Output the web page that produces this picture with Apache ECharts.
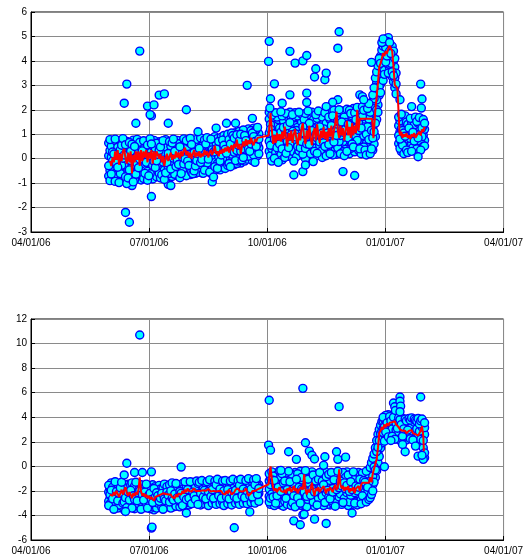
<!DOCTYPE html>
<html>
<head>
<meta charset="utf-8">
<script src="https://cdn.jsdelivr.net/npm/echarts@6/dist/echarts.min.js"></script>
<style>
  html, body { margin: 0; padding: 0; background: #fff; }
  #chart { width: 526px; height: 556px; }
</style>
</head>
<body>
<div id="chart"></div>
<script>
// x values are days counted from 04/01/06
var xTickLabels = ['04/01/06', '07/01/06', '10/01/06', '01/01/07', '04/01/07'];

// top panel: each row is [day, value, value, ...]
var topSummerRows = [
  [60, 0.12, -0.71, 0.64, -0.29], [61, -0.48, 0.33, -0.9, 0.78], [62, 0.05, -0.22, 0.51, -0.63],
  [63, 0.71, -0.84, -0.1, 0.27], [64, -0.39, 0.58, -0.67, 0.19], [65, 0.42, -0.05, -0.93, 0.8],
  [66, -0.57, 0.26, 0.69, -0.18], [67, -0.76, 0.09, 0.47, -0.35], [68, 0.6, -0.44, 0.16, -0.98],
  [69, -0.13, 0.74, -0.61, 0.36], [70, -0.82, 0.21, -0.27, 0.55], [71, 0.38, -0.66, 0.02, 0.82],
  [72, -0.41, 0.63, -0.89, 0.15], [73, 0.29, -0.16, -0.74, 0.57], [74, -0.55, 0.44, 0.7, -1.02],
  [75, 0.07, -0.33, 0.52, -0.79], [76, -1.0, 0.24, -0.46, 0.66], [77, 0.49, -0.7, -0.08, 0.3],
  [78, -1.1, -0.25, 0.13, 0.59], [79, 0.35, -0.58, 0.76, -0.95], [80, -0.31, 0.18, -0.86, 0.5],
  [81, 0.62, -0.12, -0.64, 0.04], [82, -0.49, 0.4, 0.79, -0.2], [83, -0.75, 0.1, 0.55, -0.37],
  [84, 0.28, -0.53, 0.67, -0.02], [85, -0.87, 0.45, -0.23, 0.14], [86, 0.58, -0.68, 0.0, 0.32],
  [87, -0.42, 0.22, -0.81, 0.73], [88, 0.11, -0.3, 0.49, -0.6], [89, -0.77, 0.37, 0.65, -0.15],
  [90, 0.2, -0.52, -0.88, 0.56], [91, -0.34, 0.71, 0.08, -0.7], [92, 0.47, -0.19, -0.62, 0.81],
  [93, -0.56, 0.3, -0.04, 0.6], [94, -0.83, 0.14, 0.52, -0.28], [95, 0.39, -0.45, 0.75, -0.11],
  [96, -0.65, 0.03, 0.43, -0.36], [97, 0.26, -0.74, 0.63, -0.09], [98, -0.5, 0.54, -0.21, 0.17],
  [99, 0.69, -0.6, -0.02, 0.34], [100, -0.4, 0.12, -0.79, 0.48], [101, 0.57, -0.27, 0.25, -0.66],
  [102, -0.72, 0.41, -0.14, 0.74], [103, 0.16, -0.47, 0.62, -0.85], [104, -0.31, 0.33, 0.78, -0.58],
  [105, 0.05, -0.69, 0.46, -0.17], [106, -1.05, 0.6, -0.38, 0.21], [107, 0.35, -0.12, -0.6, 0.7],
  [108, -1.1, 0.09, 0.51, -0.42], [109, 0.28, -0.73, -0.26, 0.64], [110, -0.55, 0.44, 0.02, 0.8],
  [111, -0.19, 0.67, -0.64, 0.3], [112, 0.1, -0.48, 0.55, -0.32], [113, -0.7, 0.36, 0.75, -0.05],
  [114, 0.23, -0.57, 0.61, -0.24], [115, -0.4, 0.14, -0.78, 0.49], [116, 0.72, -0.3, 0.31, -0.61],
  [117, -0.13, 0.53, -0.5, 0.06], [118, 0.42, -0.67, 0.81, -0.22], [119, -0.45, 0.19, 0.6, -0.01],
  [120, 0.35, -0.36, -0.7, 0.74], [121, -0.58, 0.27, 0.5, -0.1], [122, 0.08, -0.46, 0.66, -0.28],
  [123, -0.65, 0.41, 0.17, 0.83], [124, 0.3, -0.2, -0.55, 0.58], [125, -0.37, 0.7, 0.04, -0.62],
  [126, 0.49, -0.15, 0.25, -0.5], [127, -0.6, 0.11, 0.62, -0.3], [128, 0.38, -0.41, 0.79, -0.08],
  [129, -0.25, 0.55, -0.56, 0.2], [130, 0.66, -0.33, 0.02, 0.42], [131, -0.49, 0.29, 0.85, -0.16],
  [132, 0.14, -0.58, 0.5, -0.03], [133, -0.36, 0.63, 0.23, -0.6], [134, 0.44, -0.12, 0.77, -0.47],
  [135, -0.27, 0.35, 0.08, 0.6], [136, 0.53, -0.5, -0.18, 0.86], [137, -0.4, 0.2, 0.68, -0.02],
  [138, 0.31, -0.26, 0.57, -0.55], [139, -0.6, 0.45, 0.12, 0.8], [140, 0.03, -0.38, 0.65, 0.36],
  [141, -0.22, 0.74, -0.5, 0.27], [142, 0.56, -0.08, 0.9, -0.33], [143, -0.45, 0.18, 0.61, 0.4],
  [144, 0.25, -0.2, 0.82, -0.4], [145, -0.3, 0.5, 0.07, 0.7], [146, 0.64, -0.46, 0.32, -0.1],
  [147, -0.17, 0.41, 0.88, 0.15], [148, 0.48, -0.35, 0.02, 0.76], [149, -0.26, 0.28, 0.95, 0.55],
  [150, 0.13, -0.4, 0.67, 0.38], [151, -0.1, 0.52, 0.86, 0.22], [152, 0.6, -0.28, 0.35, 1.0],
  [153, 0.05, 0.44, -0.2, 0.78], [154, 0.3, 0.92, -0.33, 0.6], [155, -0.15, 0.5, 0.18, 1.05],
  [156, 0.7, 0.02, 0.4, 0.95], [157, -0.25, 0.58, 0.26, 0.84], [158, 0.12, 1.06, 0.47, -0.08],
  [159, 0.66, -0.2, 0.33, 0.98], [160, 0.2, 0.85, -0.1, 0.55], [161, 0.42, 1.12, 0.0, 0.73],
  [162, -0.18, 0.61, 0.3, 1.0], [163, 0.5, 0.15, 0.9, -0.05], [164, 0.8, 0.27, 1.17, 0.05],
  [165, -0.1, 0.62, 0.38, 0.95], [166, 0.47, 1.1, 0.12, 0.74], [167, 0.23, -0.02, 0.86, 0.55],
  [168, 0.68, 1.22, 0.1, 0.4], [169, 0.05, 0.52, 0.97, 0.3], [170, 0.83, 0.2, 1.15, 0.6],
  [171, 0.37, -0.08, 0.74, 1.05], [172, 0.58, 1.25, 0.15, 0.9], [173, 0.02, 0.44, 1.12, 0.7],
  [174, 0.78, 0.27, 1.2, 0.5], [175, 0.12, 0.95, 0.6, 1.28], [176, 0.45, 1.02, 0.2, 0.8]
];
var topAutumnRows = [
  [184, 0.3, 1.05, 1.62, 0.71, 1.9], [185, 0.85, 0.12, 1.4, 0.55, 1.2], [186, 1.55, 0.42, 0.95, -0.1, 1.78],
  [187, 0.2, 1.3, 0.68, 1.85, 1.02], [188, 1.12, 0.5, 1.68, 0.02, 0.8], [189, 0.62, 1.45, 0.25, 1.0, 1.88],
  [190, 1.35, 0.08, 0.9, 1.7, 0.45], [191, 0.38, 1.15, 1.6, 0.75, -0.15], [192, 0.95, 1.82, 0.3, 1.25, 0.6],
  [193, 1.5, 0.55, 0.15, 1.08, 1.92], [194, 0.72, 1.38, -0.05, 1.75, 0.4], [195, 0.18, 1.0, 1.55, 0.62, 1.28],
  [196, 1.65, 0.35, 0.88, 1.2, 0.05], [197, 0.5, 1.42, 0.95, 1.85, 0.22], [198, 1.1, 0.28, 1.72, 0.7, 1.35],
  [199, 0.82, 1.58, 0.1, 1.2, 0.45], [200, 0.35, 1.05, 1.9, 0.6, 1.48], [201, 1.3, 0.15, 0.78, 1.65, 0.98],
  [202, 0.6, 1.5, 0.3, 1.12, 1.8], [203, 1.22, 0.45, 0.92, 1.7, -0.1], [204, 0.25, 1.35, 0.7, 1.88, 1.02],
  [205, 1.6, 0.52, 1.15, 0.08, 0.88], [206, 0.78, 1.28, 0.2, 1.75, 0.5], [207, 1.45, 0.62, 1.0, 0.32, 1.9],
  [208, 0.15, 1.1, 1.62, 0.85, 0.45], [209, 1.05, 0.38, 1.5, 1.82, 0.7], [210, 0.55, 1.72, 0.92, 0.18, 1.3],
  [211, 1.38, 0.25, 0.8, 1.6, 1.05], [212, 0.68, 1.2, 0.0, 1.85, 0.42], [213, 1.52, 0.88, 0.3, 1.15, 0.6],
  [214, 0.4, 1.62, 1.0, 0.72, 1.95], [215, 1.25, 0.12, 0.95, 1.45, 0.58], [216, 0.82, 1.78, 0.35, 1.08, 0.2],
  [217, 1.4, 0.65, 1.9, 0.48, 1.15], [218, 0.28, 1.05, 1.58, 0.75, -0.12], [219, 1.68, 0.52, 1.22, 0.9, 0.3],
  [220, 0.62, 1.48, 0.1, 1.8, 1.0], [221, 1.12, 0.4, 1.65, 0.85, 0.22], [222, 0.72, 1.35, 0.55, 1.95, 1.1],
  [223, 1.55, 0.18, 1.0, 0.68, 1.3], [224, 0.45, 1.82, 1.2, 0.3, 0.9], [225, 1.3, 0.6, 1.7, 0.05, 1.05],
  [226, 0.88, 1.5, 0.38, 1.22, 0.65], [227, 1.62, 0.25, 0.98, 1.88, 0.5], [228, 0.55, 1.15, 1.45, 0.78, 0.12],
  [229, 1.38, 0.72, 1.92, 0.4, 1.05], [230, 0.32, 1.28, 0.85, 1.7, 0.58], [231, 1.18, 0.48, 1.6, 0.95, 0.2],
  [232, 0.75, 1.85, 0.3, 1.35, 1.02], [233, 1.5, 0.62, 1.12, 0.15, 1.75], [234, 0.42, 1.25, 0.92, 1.98, 0.68],
  [235, 1.65, 0.3, 1.4, 0.82, 1.1], [236, 0.58, 1.72, 0.18, 1.2, 0.95], [237, 1.3, 0.8, 1.9, 0.45, 1.55],
  [238, 0.35, 1.45, 1.05, 0.7, 2.0], [239, 1.6, 0.55, 1.28, 0.95, 0.2], [240, 0.8, 1.82, 0.4, 1.15, 1.5],
  [241, 1.42, 0.65, 1.95, 0.28, 1.08], [242, 0.5, 1.32, 0.88, 1.7, 0.12], [243, 1.7, 0.95, 0.38, 1.48, 1.2],
  [244, 0.62, 1.58, 1.1, 2.02, 0.3], [245, 1.25, 0.45, 1.8, 0.85, 1.4], [246, 0.9, 1.65, 0.2, 1.35, 1.98],
  [247, 1.52, 0.7, 1.15, 0.42, 1.85], [248, 0.32, 1.38, 0.95, 1.75, 0.6], [249, 1.62, 0.82, 1.25, 2.05, 0.48],
  [250, 0.7, 1.5, 0.28, 1.1, 1.88], [251, 1.35, 0.58, 1.95, 0.9, 1.6], [252, 0.45, 1.22, 1.7, 0.75, 2.1],
  [253, 1.8, 0.92, 0.35, 1.48, 1.15], [254, 0.65, 1.6, 1.05, 2.0, 0.4], [255, 1.42, 0.78, 1.9, 0.2, 1.25],
  [256, 0.55, 1.35, 0.95, 1.72, 2.12], [257, 1.68, 0.88, 1.3, 0.48, 1.98], [258, 0.72, 1.55, 1.12, 2.15, 0.35],
  [259, 1.45, 0.62, 1.85, 1.0, 0.15], [260, 0.9, 1.75, 0.45, 1.3, 2.05], [261, 1.2, 0.3, 1.62, 0.78, 2.25],
  [262, 0.55, 1.45, 0.98, 1.9, 0.2], [263, 1.6, 0.72, 2.3, 1.15, 0.4], [264, 0.35, 1.25, 2.05, 0.85, 2.6],
  [265, 1.5, 0.6, 2.45, 1.1, 2.9], [266, 0.9, 1.95, 2.75, 1.45, 3.3], [267, 1.6, 2.4, 3.1, 2.0, 3.55],
  [268, 2.2, 2.85, 3.45, 1.9, 3.8], [269, 2.6, 3.3, 3.85, 2.95, 4.1], [270, 3.05, 3.6, 4.2, 2.7, 3.9],
  [271, 3.3, 3.95, 4.45, 3.65, 4.75], [272, 3.55, 4.15, 4.6, 3.2, 4.9], [273, 3.8, 4.35, 4.75, 4.05, 3.45],
  [274, 3.6, 4.25, 4.9, 4.55, 3.95], [275, 4.0, 4.5, 3.7, 4.8, 4.2], [276, 3.75, 4.35, 4.95, 4.1, 3.5],
  [277, 4.15, 4.6, 3.85, 4.4, 4.75], [278, 3.6, 4.05, 4.5, 3.9, 4.3], [279, 3.35, 3.8, 4.25, 4.6, 3.55],
  [280, 3.15, 3.65, 4.0, 4.4, 3.4], [281, 2.9, 3.3, 3.75, 4.1], [282, 2.65, 3.05, 3.5]
];
var topWinterRows = [
  [284, 0.62, 1.35, 0.95, 1.7], [285, 1.1, 0.42, 1.55, 0.8], [286, 0.3, 1.22, 0.7, 1.82],
  [287, 1.45, 0.88, 0.55, 1.15], [288, 0.75, 1.62, 0.2, 1.05], [289, 1.3, 0.48, 1.75, 0.92],
  [290, 0.58, 1.12, 1.5, 0.35], [291, 1.0, 0.7, 1.4, 0.25], [292, 1.58, 0.52, 0.95, 1.25],
  [293, 0.38, 1.3, 0.82, 1.65], [294, 1.2, 0.6, 1.48, 0.3], [295, 0.85, 1.55, 0.45, 1.08],
  [296, 0.5, 1.02, 1.38, 0.72], [297, 1.42, 0.32, 0.9, 1.7], [298, 0.68, 1.25, 0.4, 1.52],
  [299, 1.1, 0.55, 1.45, 0.85], [300, 0.42, 1.3, 0.98, 1.68], [301, 1.18, 0.7, 1.55, 0.35],
  [302, 0.6, 1.4, 0.9, 1.25], [303, 0.95, 0.5, 1.35, 1.6], [304, 0.75, 1.2, 0.52, 1.45]
];
var topOutliers = [
  [72, 2.27], [74, 3.05], [73, -2.2], [76, -2.6], [84, 4.4], [90, 2.15], [93, 1.75], [95, 2.2], [93, -1.55],
  [99, 2.6], [103, 2.65], [81, 1.45], [106, 1.45], [92, 1.8], [120, 2.0], [129, 1.1], [140, -0.95], [141, -0.75],
  [143, 1.25], [151, 1.45], [158, 1.45], [167, 3.0], [171, 1.65], [173, -0.15],
  [184, 4.8], [183.5, 3.98], [188, 3.06], [185, 2.45], [184.5, 2.07], [200, 4.39], [204, 3.91], [210, 4.0],
  [213, 4.22], [220, 3.68], [219, 3.34], [227, 3.23], [228, 3.5], [238, 5.19], [237, 4.52], [200, 2.61],
  [213, 2.68], [194, 2.27], [213, 2.3], [237, 2.41], [233, 2.31], [228, 2.13], [254, 2.61], [256, 2.54],
  [263, 3.94], [257, 2.41], [250, -0.69], [203, -0.67], [210, -0.53], [212, -0.26], [241, -0.53],
  [285, 2.41], [301, 3.05], [302, 2.44], [301.5, 2.07], [294, 2.13], [299, 0.08]
];
var topLine = [
  [61, -0.1], [62, -0.3], [63, 0.05], [64, -0.15], [65, 0.3], [66, -0.05], [67, 0.35], [68, -0.25], [69, 0.2],
  [70, -0.1], [71, 0.3], [72, 0.4], [73, 0.0], [74, -0.2], [75, 0.25], [76, -0.15], [77, 0.3], [78, -0.6],
  [79, 0.15], [80, -0.15], [81, 0.3], [82, -0.05], [83, 0.3], [84, -0.3], [85, 0.35], [86, -0.1], [87, 0.3],
  [88, 0.05], [89, 0.35], [90, -0.15], [91, 0.25], [92, 0.0], [93, 0.35], [94, -0.2], [95, 0.3], [96, -0.05],
  [97, 0.3], [98, 0.38], [99, 0.0], [100, 0.2], [101, -0.15], [102, 0.1], [103, -0.3], [104, 0.0], [105, 0.2],
  [106, -0.1], [107, 0.1], [108, 0.25], [109, -0.05], [110, 0.15], [111, 0.0], [112, 0.3], [113, 0.05], [114, 0.25],
  [115, 0.0], [116, 0.3], [117, 0.1], [118, 0.35], [119, 0.45], [120, 0.15], [121, 0.3], [122, 0.05], [123, 0.25],
  [124, 0.0], [125, 0.2], [126, 0.35], [127, 0.05], [128, 0.25], [129, 0.1], [130, 0.3], [131, 0.05], [132, 0.2],
  [133, 0.1], [134, 0.35], [135, 0.15], [136, 0.3], [137, 0.05], [138, 0.25], [139, 0.35], [140, 0.15], [141, 0.3],
  [142, 0.52], [143, 0.2], [144, 0.3], [145, 0.1], [146, 0.35], [147, 0.2], [148, 0.4], [149, 0.25], [150, 0.45],
  [151, 0.3], [152, 0.5], [153, 0.25], [154, 0.45], [155, 0.55], [156, 0.3], [157, 0.6], [158, 0.45], [159, 0.78],
  [160, 0.4], [161, 0.6], [162, 0.2], [163, 0.5], [164, 0.7], [165, 0.5], [166, 0.8], [167, 0.55], [168, 0.75],
  [169, 0.6], [170, 0.86], [171, 0.65], [172, 0.55], [173, 0.8], [174, 0.7], [175, 0.85], [176, 0.8],
  [183.5, 0.95], [185, 1.86], [186, 1.2], [187, 0.6], [188, 0.95], [189, 0.65], [190, 1.05], [191, 0.75], [192, 1.0],
  [193, 0.7], [194, 1.1], [195, 0.8], [196, 1.31], [197, 0.85], [198, 0.5], [199, 1.05], [200, 0.75], [201, 1.15],
  [202, 0.65], [203, 1.0], [204, 1.2], [205, 0.8], [206, 0.55], [207, 1.05], [208, 0.75], [209, 1.25], [210, 1.45],
  [211, 0.85], [212, 0.6], [213, 1.15], [214, 0.8], [215, 1.35], [216, 0.85], [217, 0.55], [218, 1.05], [219, 1.25],
  [220, 0.75], [221, 1.4], [222, 0.95], [223, 0.65], [224, 1.15], [225, 0.85], [226, 1.3], [227, 0.8], [228, 1.1],
  [229, 0.7], [230, 1.25], [231, 0.9], [232, 1.35], [233, 0.75], [234, 1.15], [235, 1.45], [236, 1.93], [237, 1.15],
  [238, 0.85], [239, 1.35], [240, 0.95], [241, 1.25], [242, 0.75], [243, 1.15], [244, 1.55], [245, 0.95], [246, 1.3],
  [247, 0.85], [248, 1.45], [249, 0.95], [250, 1.35], [251, 1.05], [252, 2.0], [253, 1.15], [254, 1.63], [263.5, 1.63],
  [264.5, 0.84], [265.5, 1.6], [266, 2.0], [267, 2.54], [268, 3.1], [269, 3.77], [270, 3.9], [271, 4.1],
  [272, 4.32], [273, 4.2], [274, 4.4], [275, 4.3], [276, 4.5], [277, 4.62], [278, 4.55], [279, 4.4], [280, 3.77],
  [281, 3.02], [282, 2.95], [283, 2.89], [284.2, 2.85], [284.7, 1.04], [285.5, 0.95], [286, 1.1], [287, 0.85],
  [288, 1.0], [289, 0.9], [290, 1.05], [291, 0.85], [292, 0.95], [293, 0.8], [294, 1.0], [295, 0.9], [296, 1.05],
  [297, 0.85], [298, 0.95], [299, 0.9], [300, 1.1], [301, 0.95], [302, 1.2], [303, 1.1], [304, 1.31]
];

// bottom panel
var bottomSummerRows = [
  [60, -2.1, -2.85, -1.55, -3.2], [61, -2.6, -1.8, -3.05, -2.3], [62, -1.35, -2.45, -2.95, -1.95],
  [63, -3.3, -2.15, -1.7, -2.65], [64, -2.4, -1.5, -2.9, -3.5], [65, -1.9, -2.75, -2.2, -1.25],
  [66, -3.1, -1.65, -2.5, -2.05], [67, -2.3, -3.4, -1.45, -2.8], [68, -1.85, -2.6, -3.15, -2.2],
  [69, -2.95, -1.4, -2.35, -1.75], [70, -2.5, -3.25, -1.95, -1.3], [71, -1.6, -2.7, -2.15, -3.0],
  [72, -3.55, -2.4, -1.8, -2.9], [73, -2.05, -1.5, -3.1, -2.55], [74, -2.8, -1.9, -2.25, -3.35],
  [75, -1.45, -3.0, -2.6, -2.1], [76, -2.35, -1.7, -3.2, -2.75], [77, -3.05, -2.5, -1.55, -1.95],
  [78, -2.2, -2.9, -1.35, -3.4], [79, -1.8, -2.55, -3.15, -2.4], [80, -3.45, -2.05, -1.6, -2.7],
  [81, -2.6, -1.85, -2.95, -1.3], [82, -1.95, -3.2, -2.35, -2.8], [83, -2.7, -1.45, -3.05, -2.15],
  [84, -3.3, -2.45, -1.75, -2.0], [85, -2.15, -2.85, -1.5, -3.5], [86, -1.65, -2.6, -3.1, -2.3],
  [87, -3.0, -1.9, -2.5, -2.75], [88, -2.45, -3.35, -1.7, -2.1], [89, -1.85, -2.7, -3.2, -1.45],
  [90, -2.9, -2.25, -1.6, -3.4], [91, -2.55, -3.05, -1.95, -2.35], [92, -1.75, -2.95, -3.45, -2.2],
  [93, -3.15, -2.4, -1.85, -2.7], [94, -2.6, -1.5, -3.3, -2.95], [95, -2.05, -3.55, -2.75, -1.8],
  [96, -3.1, -2.3, -1.65, -2.5], [97, -2.8, -1.95, -3.4, -2.15], [98, -1.7, -2.65, -3.0, -2.4],
  [99, -3.25, -2.1, -1.55, -2.85], [100, -2.45, -3.05, -1.85, -2.6], [101, -1.6, -2.75, -3.35, -2.2],
  [102, -2.9, -2.35, -1.75, -3.5], [103, -2.15, -3.2, -1.45, -2.65], [104, -3.0, -1.9, -2.5, -2.8],
  [105, -2.4, -3.3, -1.65, -2.1], [106, -1.85, -2.7, -3.1, -2.35], [107, -3.15, -2.2, -1.5, -2.9],
  [108, -2.55, -1.8, -3.4, -2.0], [109, -2.05, -2.95, -1.35, -2.6], [110, -3.3, -2.45, -1.9, -2.75],
  [111, -2.7, -1.6, -3.05, -2.25], [112, -1.95, -2.85, -3.25, -1.4], [113, -2.35, -3.0, -1.75, -2.55],
  [114, -3.15, -2.1, -1.5, -2.7], [115, -2.5, -1.85, -3.3, -2.05], [116, -1.55, -2.65, -2.95, -2.2],
  [117, -2.9, -2.3, -1.4, -3.2], [118, -2.15, -3.1, -1.8, -2.5], [119, -1.7, -2.45, -3.0, -1.25],
  [120, -3.05, -2.0, -1.6, -2.7], [121, -2.4, -1.35, -2.85, -1.9], [122, -1.8, -3.15, -2.25, -2.6],
  [123, -2.95, -1.55, -2.05, -1.25], [124, -2.3, -2.75, -1.7, -3.05], [125, -1.45, -2.5, -2.95, -2.1],
  [126, -2.85, -1.9, -1.3, -2.4], [127, -2.2, -3.0, -1.65, -2.7], [128, -1.55, -2.35, -2.9, -1.2],
  [129, -2.75, -2.05, -1.4, -3.1], [130, -2.45, -1.75, -2.95, -1.3], [131, -1.9, -2.6, -3.15, -2.2],
  [132, -2.8, -1.5, -2.3, -1.15], [133, -2.1, -2.9, -1.8, -2.5], [134, -1.6, -2.4, -3.05, -1.95],
  [135, -2.95, -2.15, -1.35, -2.65], [136, -2.3, -1.7, -2.85, -1.25], [137, -1.85, -2.55, -3.2, -2.05],
  [138, -2.7, -1.45, -2.2, -1.1], [139, -2.0, -2.85, -1.65, -2.45], [140, -1.5, -2.3, -3.0, -1.9],
  [141, -2.9, -2.1, -1.3, -2.6], [142, -2.25, -1.75, -2.8, -1.2], [143, -1.95, -2.5, -3.1, -1.5],
  [144, -2.65, -1.4, -2.15, -1.05], [145, -2.05, -2.95, -1.7, -2.4], [146, -1.6, -2.35, -3.05, -1.85],
  [147, -2.85, -2.1, -1.35, -2.6], [148, -2.3, -1.65, -2.9, -1.2], [149, -1.9, -2.6, -3.2, -2.0],
  [150, -2.75, -1.5, -2.25, -1.15], [151, -2.15, -2.9, -1.75, -2.5], [152, -1.55, -2.4, -3.05, -1.9],
  [153, -2.95, -2.05, -1.4, -2.65], [154, -2.35, -1.7, -2.8, -1.2], [155, -1.85, -2.55, -3.15, -2.1],
  [156, -2.7, -1.45, -2.25, -1.05], [157, -2.05, -2.85, -1.65, -2.45], [158, -1.5, -2.3, -3.0, -1.95],
  [159, -2.9, -2.15, -1.3, -2.6], [160, -2.25, -1.75, -2.85, -1.15], [161, -1.95, -2.45, -3.1, -1.55],
  [162, -2.6, -1.4, -2.1, -1.05], [163, -2.15, -2.9, -1.7, -2.4], [164, -1.65, -2.35, -3.0, -1.85],
  [165, -2.8, -2.05, -1.35, -2.55], [166, -2.3, -1.6, -2.75, -1.15], [167, -1.8, -2.5, -3.05, -2.0],
  [168, -2.65, -1.45, -2.2, -1.0], [169, -2.1, -2.8, -1.65, -2.4], [170, -1.55, -2.3, -2.95, -1.85],
  [171, -2.85, -2.0, -1.3, -2.5], [172, -2.2, -1.7, -2.7, -1.1], [173, -1.9, -2.4, -3.0, -1.5],
  [174, -2.55, -1.35, -2.05, -1.0], [175, -2.0, -2.75, -1.6, -2.3], [176, -1.5, -2.2, -2.85, -1.8]
];
var bottomAutumnRows = [
  [184, -1.2, -2.45, -0.6, -1.85, -2.9], [185, -2.1, -0.95, -3.1, -1.5, -2.6], [186, -1.65, -2.8, -0.45, -2.25, -1.1],
  [187, -2.95, -1.35, -2.0, -0.8, -2.5], [188, -0.55, -2.3, -1.75, -3.2, -1.15], [189, -2.65, -1.0, -2.15, -1.55, -3.0],
  [190, -1.4, -2.85, -0.7, -1.95, -2.4], [191, -2.2, -0.5, -3.05, -1.25, -1.7], [192, -1.85, -2.6, -1.05, -2.95, -0.35],
  [193, -3.15, -1.45, -2.35, -0.85, -2.05], [194, -1.1, -2.75, -1.6, -2.2, -0.6], [195, -2.5, -0.9, -3.25, -1.8, -1.35],
  [196, -1.7, -2.4, -0.75, -2.85, -1.2], [197, -3.0, -1.3, -2.1, -0.55, -2.6], [198, -0.8, -2.2, -1.5, -3.1, -1.9],
  [199, -2.45, -1.05, -2.75, -1.65, -0.4], [200, -1.55, -2.9, -0.95, -2.3, -1.25], [201, -2.7, -0.65, -1.85, -3.2, -2.05],
  [202, -1.3, -2.5, -1.75, -0.7, -2.95], [203, -2.15, -1.0, -3.05, -1.45, -2.4], [204, -0.5, -2.65, -1.2, -1.95, -3.3],
  [205, -2.85, -1.6, -0.85, -2.25, -1.05], [206, -1.8, -3.1, -2.0, -0.6, -2.55], [207, -2.35, -0.95, -1.45, -2.8, -1.7],
  [208, -1.15, -2.7, -0.4, -2.05, -3.0], [209, -3.2, -1.5, -2.45, -0.9, -1.85], [210, -0.75, -2.3, -1.3, -2.95, -1.95],
  [211, -2.55, -1.1, -3.15, -1.7, -2.1], [212, -1.4, -2.8, -0.65, -2.3, -0.35], [213, -2.9, -1.25, -1.9, -3.3, -2.45],
  [214, -0.95, -2.15, -1.6, -2.7, -1.05], [215, -2.6, -0.55, -3.0, -1.4, -2.0], [216, -1.75, -2.95, -1.15, -0.8, -2.35],
  [217, -3.1, -1.55, -2.2, -0.45, -1.85], [218, -1.0, -2.5, -1.35, -2.9, -0.7], [219, -2.4, -0.85, -3.25, -1.65, -2.1],
  [220, -1.6, -2.75, -0.6, -2.05, -1.2], [221, -2.95, -1.45, -2.3, -0.9, -3.15], [222, -0.7, -2.1, -1.8, -2.6, -1.05],
  [223, -2.5, -1.15, -3.0, -1.55, -0.5], [224, -1.35, -2.85, -0.95, -2.2, -1.75], [225, -3.05, -0.6, -1.9, -2.45, -1.2],
  [226, -1.85, -2.35, -0.75, -3.2, -1.5], [227, -2.7, -1.05, -2.0, -0.4, -2.95], [228, -1.2, -2.6, -1.65, -2.15, -0.85],
  [229, -2.3, -0.55, -3.1, -1.4, -1.95], [230, -1.55, -2.9, -1.0, -2.5, -0.65], [231, -3.15, -1.7, -2.25, -1.15, -2.65],
  [232, -0.9, -2.05, -1.45, -2.8, -0.5], [233, -2.55, -1.25, -3.0, -1.8, -2.1], [234, -1.65, -2.7, -0.7, -2.35, -1.1],
  [235, -2.9, -1.4, -2.05, -0.55, -3.25], [236, -0.8, -2.45, -1.55, -2.95, -1.9], [237, -2.2, -0.95, -2.75, -1.3, -0.4],
  [238, -1.45, -3.05, -1.05, -2.5, -1.75], [239, -2.65, -0.6, -1.95, -2.25, -1.2], [240, -1.25, -2.8, -0.85, -3.1, -1.6],
  [241, -2.4, -1.1, -2.0, -0.5, -2.95], [242, -0.75, -2.3, -1.7, -2.6, -1.35], [243, -3.0, -1.5, -2.45, -0.9, -1.85],
  [244, -1.05, -2.75, -0.45, -2.15, -1.55], [245, -2.6, -1.2, -3.2, -1.8, -0.7], [246, -1.7, -2.5, -1.0, -2.9, -2.05],
  [247, -2.85, -0.8, -1.6, -2.35, -1.25], [248, -1.3, -3.1, -2.2, -0.6, -1.9], [249, -2.45, -1.45, -2.8, -1.05, -0.45],
  [250, -0.95, -2.65, -1.75, -2.15, -3.0], [251, -2.3, -0.65, -1.35, -2.9, -1.6], [252, -1.5, -2.4, -0.9, -3.15, -2.0],
  [253, -2.75, -1.15, -2.25, -0.5, -1.7], [254, -0.85, -2.55, -1.45, -2.95, -1.05], [255, -2.2, -1.6, -0.7, -2.7, -3.05],
  [256, -1.35, -2.9, -1.9, -0.55, -2.4], [257, -2.6, -0.95, -2.1, -1.5, -1.15], [258, -1.8, -2.3, -0.6, -2.75, -1.3],
  [259, -2.45, -1.05, -1.65, -0.4, -2.9], [260, -1.15, -2.6, -0.8, -2.15, -1.7], [261, -2.3, -0.5, -1.9, -1.25, -2.7],
  [262, -0.75, -2.1, -1.45, -0.1, -2.55], [263, -1.85, -0.4, -1.2, 0.3, -2.3], [264, -1.5, 0.1, -0.8, 0.65, -2.0],
  [265, -0.6, 0.4, -1.3, 1.0, -0.05], [266, 0.2, -0.9, 0.9, 1.5, -0.3], [267, 0.75, 1.6, -0.35, 1.2, 2.1],
  [268, 1.1, 2.0, 0.3, 2.6, 1.55], [269, 1.7, 2.45, 0.8, 3.0, 2.1], [270, 2.2, 2.9, 1.5, 3.35, 2.65],
  [271, 2.5, 3.2, 1.9, 3.65, 2.85]
];
var bottomWinterRows = [
  [272, 2.35, 3.1, 3.7, 2.75, 4.0], [273, 2.6, 3.45, 2.05, 3.85, 3.2], [274, 3.0, 2.45, 3.65, 4.15, 2.8],
  [275, 2.2, 3.3, 3.9, 2.85, 3.55], [276, 3.6, 2.7, 4.2, 3.1, 2.4], [277, 2.95, 3.75, 2.3, 3.45, 4.05],
  [278, 3.35, 2.55, 3.95, 2.15, 3.7], [279, 2.75, 3.55, 4.1, 3.05, 2.45], [280, 3.8, 2.9, 3.3, 2.35, 4.0],
  [281, 2.5, 3.65, 3.0, 3.95, 2.2], [282, 3.25, 2.65, 3.85, 2.95, 3.5], [283, 2.4, 3.45, 2.85, 4.05, 3.1],
  [284, 3.7, 2.3, 3.2, 2.75, 3.95], [285, 2.95, 3.55, 2.1, 3.35, 3.8], [286, 2.55, 3.1, 3.75, 2.35, 3.4],
  [287, 3.5, 2.8, 3.9, 3.0, 2.45], [288, 2.25, 3.25, 2.7, 3.65, 3.05], [289, 3.15, 2.5, 3.55, 2.9, 3.85],
  [290, 2.65, 3.4, 2.15, 3.1, 3.7], [291, 3.3, 2.85, 3.75, 2.4, 2.95], [292, 2.45, 3.15, 3.6, 2.7, 3.9],
  [293, 3.05, 2.6, 3.45, 2.25, 3.75], [294, 2.8, 3.5, 2.35, 3.2, 3.95], [295, 3.4, 2.55, 3.0, 3.7, 2.15],
  [296, 2.3, 3.25, 2.75, 3.6, 3.85], [297, 3.1, 2.45, 3.5, 2.9, 3.75], [298, 2.6, 3.35, 2.05, 3.05, 3.65],
  [299, 3.2, 2.7, 3.55, 2.4, 3.9], [300, 2.5, 3.0, 3.75, 2.85, 3.45], [301, 3.35, 2.6, 3.1, 2.2, 3.7],
  [302, 2.75, 3.5, 2.35, 3.2, 3.85], [303, 1.5, 3.05, 2.5, 3.4, 2.1], [304, 0.7, 1.1, 2.6, 3.15, 3.55]
];
var bottomOutliers = [
  [84, 10.7], [74, 0.25], [72, -0.7], [80, -0.5], [86, -0.5], [93, -0.45], [116, -0.06], [93, -5.03],
  [93.5, -4.95], [157, -5.0], [120, -3.8], [169, -3.71], [73, -3.68],
  [184, 5.38], [210, 6.35], [238, 4.86], [183.5, 1.73], [185, 1.32], [199, 1.19], [205, 0.57], [212, 1.92],
  [215, 1.24], [217, 0.9], [219, 0.6], [227, 0.78], [226, 0.08], [236, 1.19], [237, 0.57], [243, 0.75],
  [193, -0.33], [203, -4.44], [208, -4.76], [210, -3.95], [219, -4.3], [228, -4.65], [248, -3.8], [211, -3.9],
  [280, 5.16], [281, 4.85], [281.5, 4.55], [285, 5.65], [285, 5.3], [285.5, 4.9], [285, 4.45], [301, 5.65],
  [273, -0.03], [278, 2.1], [289, 1.19], [299, 0.83], [303, 0.57], [302, 0.9], [287, 1.78], [297, 1.65]
];
var bottomLine = [
  [61, -2.3], [62, -2.2], [63, -2.4], [64, -2.1], [65, -2.35], [66, -2.0], [67, -2.25], [68, -2.5], [69, -2.2],
  [70, -1.9], [71, -2.3], [72, -2.0], [73, -1.7], [74, -2.2], [75, -2.4], [76, -2.1], [77, -2.3], [78, -2.6],
  [79, -2.2], [80, -2.4], [81, -2.1], [82, -2.3], [83, -1.9], [84, -0.9], [85, -2.0], [86, -2.4], [87, -2.2],
  [88, -2.5], [89, -2.3], [90, -2.6], [91, -2.4], [92, -2.7], [93, -2.5], [94, -2.6], [95, -2.8], [96, -2.5],
  [97, -2.6], [98, -2.4], [99, -2.5], [100, -2.3], [101, -2.45], [102, -2.2], [103, -2.35], [104, -2.25],
  [105, -2.4], [106, -2.3], [107, -2.45], [108, -2.3], [109, -2.5], [110, -2.4], [111, -2.6], [112, -2.3],
  [113, -2.5], [114, -2.2], [115, -2.1], [116, -2.3], [117, -2.0], [118, -2.2], [119, -1.9], [120, -2.1],
  [121, -1.8], [122, -2.0], [123, -1.85], [124, -2.05], [125, -1.9], [126, -1.8], [127, -2.0], [128, -1.85],
  [129, -2.0], [130, -1.9], [131, -2.0], [132, -1.85], [133, -1.95], [134, -1.9], [135, -2.0], [136, -1.95],
  [137, -1.85], [138, -2.0], [139, -2.05], [140, -1.9], [141, -2.0], [142, -1.95], [143, -2.05], [144, -2.1],
  [145, -2.0], [146, -2.15], [147, -2.0], [148, -2.2], [149, -2.1], [150, -2.3], [151, -2.0], [152, -2.2],
  [153, -1.9], [154, -2.1], [155, -2.3], [156, -2.4], [157, -2.1], [158, -1.9], [159, -2.0], [160, -1.8],
  [161, -2.0], [162, -1.85], [163, -2.05], [164, -1.9], [165, -2.0], [166, -1.8], [167, -2.1], [168, -2.4],
  [169, -2.45], [170, -2.2], [171, -2.0], [172, -1.9], [173, -2.0], [174, -1.85], [175, -1.87], [176, -1.85],
  [183.5, -1.46], [185, 0.0], [186, -1.0], [187, -1.73], [188, -2.0], [189, -1.8], [190, -2.1], [191, -1.9],
  [192, -1.7], [193, -2.0], [194, -1.85], [195, -2.1], [196, -1.9], [197, -2.2], [198, -1.8], [199, -2.0],
  [200, -1.7], [201, -2.1], [202, -1.9], [203, -1.6], [204, -2.0], [205, -1.8], [206, -2.2], [207, -1.9],
  [208, -2.0], [209, -1.7], [210, -1.9], [211, -0.65], [212, -1.8], [213, -2.3], [214, -1.9], [215, -2.1],
  [216, -1.8], [217, -1.33], [218, -2.0], [219, -2.4], [220, -1.8], [221, -2.0], [222, -1.7], [223, -2.1],
  [224, -1.9], [225, -2.0], [226, -1.6], [227, -1.9], [228, -2.2], [229, -1.8], [230, -2.0], [231, -1.7],
  [232, -1.9], [233, -2.1], [234, -1.8], [235, -1.5], [236, -1.9], [237, -1.7], [238, -0.25], [239, -1.5],
  [240, -1.8], [241, -1.6], [242, -2.0], [243, -1.7], [244, -1.9], [245, -1.6], [246, -2.1], [247, -1.8],
  [248, -2.0], [249, -1.7], [250, -2.2], [251, -1.8], [252, -1.9], [253, -1.6], [254, -2.0], [255, -1.5],
  [256, -1.33], [261, -1.33], [262, -0.9], [263, -1.3], [264, -0.6], [265, -0.2], [266, 0.2], [267, 0.57],
  [268, 1.5], [269, 2.73], [270, 2.9], [271, 3.2], [272, 3.0], [273, 3.4], [274, 3.2], [275, 3.5], [276, 3.3],
  [277, 3.55], [278, 3.4], [279, 3.6], [280, 3.5], [281, 3.67], [282, 3.4], [283, 3.5], [284, 3.2], [285, 3.0],
  [286, 2.86], [287, 2.9], [288, 2.75], [289, 2.9], [290, 2.7], [291, 2.73], [292, 2.9], [293, 2.8], [294, 2.95],
  [295, 2.7], [296, 2.86], [297, 2.6], [298, 2.75], [299, 2.5], [300, 2.59], [301, 2.9], [302, 3.27], [303, 2.5],
  [303.5, 1.24]
];

var DAYS_PER_TICK = 365 / 4;

// flatten rows column by column, so the circles of one day do not all stack on the previous day
function rowsToPoints(rowSets) {
  var points = [];
  rowSets.forEach(function (rows) {
    var width = 0;
    rows.forEach(function (row) { width = Math.max(width, row.length); });
    for (var i = 1; i < width; i++) {
      rows.forEach(function (row) {
        if (i < row.length) points.push([row[0], row[i]]);
      });
    }
  });
  return points;
}

var fontFamily = '"Liberation Sans", Arial, sans-serif';

function xAxisFor(gridIndex) {
  return {
    type: 'value', gridIndex: gridIndex, min: 0, max: 365, interval: DAYS_PER_TICK,
    axisLine: { onZero: false, lineStyle: { color: '#000', width: 1 } },
    axisTick: { inside: true, length: 4, lineStyle: { color: '#000' } },
    axisLabel: {
      color: '#000', fontSize: 10, fontFamily: fontFamily, margin: 6,
      formatter: function (value) { return xTickLabels[Math.round(value / DAYS_PER_TICK)] || ''; }
    },
    splitLine: { show: true, lineStyle: { color: '#8a8a8a', width: 1 } }
  };
}

function yAxisFor(gridIndex, min, max, interval) {
  return {
    type: 'value', gridIndex: gridIndex, min: min, max: max, interval: interval,
    axisLine: { show: true, onZero: false, lineStyle: { color: '#000', width: 1 } },
    axisTick: { show: true, inside: true, length: 4, lineStyle: { color: '#000' } },
    axisLabel: { color: '#000', fontSize: 10, fontFamily: fontFamily, margin: 4 },
    splitLine: { show: true, lineStyle: { color: '#8a8a8a', width: 1 } }
  };
}

function scatterSeries(axisIndex, data) {
  return {
    type: 'scatter', xAxisIndex: axisIndex, yAxisIndex: axisIndex, data: data,
    symbol: 'circle', symbolSize: 8, silent: true,
    itemStyle: { color: '#00ffff', borderColor: '#0000ff', borderWidth: 1.4, opacity: 1 },
    z: 2
  };
}

function lineSeries(axisIndex, data) {
  return {
    type: 'line', xAxisIndex: axisIndex, yAxisIndex: axisIndex, data: data,
    showSymbol: false, silent: true,
    lineStyle: { color: '#ff0000', width: 2 },
    z: 3
  };
}

var chart = echarts.init(document.getElementById('chart'), null, { renderer: 'canvas' });
chart.setOption({
  animation: false,
  backgroundColor: '#fff',
  grid: [
    { left: 31, top: 12, width: 477, height: 220, show: true, borderColor: '#000', borderWidth: 1, backgroundColor: 'transparent' },
    { left: 31, top: 319, width: 477, height: 222, show: true, borderColor: '#000', borderWidth: 1, backgroundColor: 'transparent' }
  ],
  xAxis: [xAxisFor(0), xAxisFor(1)],
  yAxis: [yAxisFor(0, -3, 6, 1), yAxisFor(1, -6, 12, 2)],
  series: [
    scatterSeries(0, rowsToPoints([topSummerRows, topAutumnRows, topWinterRows, topOutliers])),
    lineSeries(0, topLine),
    scatterSeries(1, rowsToPoints([bottomSummerRows, bottomAutumnRows, bottomWinterRows, bottomOutliers])),
    lineSeries(1, bottomLine)
  ]
});
</script>
</body>
</html>
